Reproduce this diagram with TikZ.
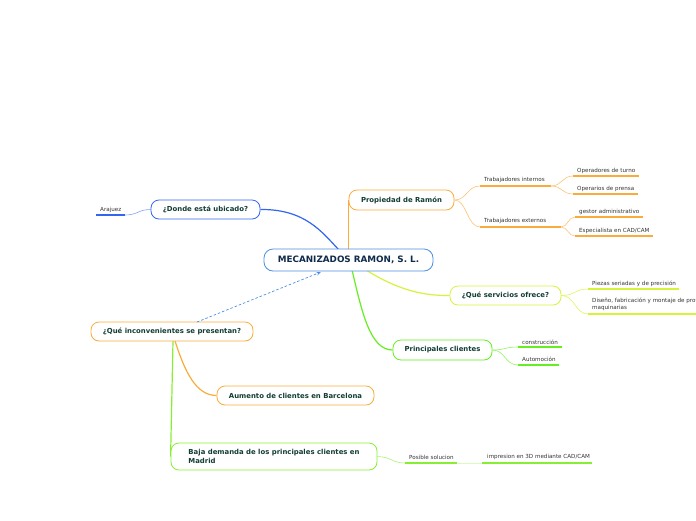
\documentclass[tikz,border=0pt]{standalone}
\usepackage{fontspec}
\setmainfont{DejaVu Sans}
\usetikzlibrary{backgrounds,arrows.meta}
\definecolor{cblue}{HTML}{4A8FE0}
\definecolor{dblue}{HTML}{3366F0}
\definecolor{corange}{HTML}{F9AC3C}
\definecolor{cyg}{HTML}{D6F23A}
\definecolor{cgreen}{HTML}{66EE22}
\definecolor{lgreen}{HTML}{88EE33}
\definecolor{navy}{HTML}{0F2A4A}
\definecolor{ttext}{HTML}{123D33}
\definecolor{stext}{HTML}{333333}
\tikzset{
  topic/.style={draw, rounded corners=8pt, fill=white, line width=0.8pt,
    font=\fontsize{6.9}{8.5}\selectfont\bfseries, text=ttext, inner sep=0pt},
  sub/.style={font=\fontsize{5.6}{6.5}\selectfont, text=stext, anchor=west, inner sep=0pt, align=left, yshift=-1pt},
  uline/.style={line width=1.3pt},
  conn/.style={line width=1.2pt},
  thin/.style={line width=0.6pt},
}
\begin{document}
\begin{tikzpicture}[x=1pt,y=-1pt]
\useasboundingbox (0,0) rectangle (696,520);
\clip (0,0) rectangle (696,520);

% main topics
\node[topic, draw=cblue, minimum width=169pt, minimum height=22pt, rounded corners=9pt,
  font=\fontsize{8.8}{10}\selectfont\bfseries, text=navy] (center) at (348.5,260) {MECANIZADOS RAMON, S. L.};
\node[topic, draw=corange, minimum width=105pt, minimum height=20pt] (prop) at (401.5,200) {Propiedad de Ramón};
\node[topic, draw=dblue, minimum width=109pt, minimum height=19pt] (donde) at (205.5,209.5) {¿Donde está ubicado?};
\node[topic, draw=cyg, minimum width=111pt, minimum height=19pt] (serv) at (505.5,295.5) {¿Qué servicios ofrece?};
\node[topic, draw=cgreen, minimum width=99pt, minimum height=20pt] (princ) at (442.5,350) {Principales clientes};
\node[topic, draw=corange, minimum width=162pt, minimum height=19pt] (incon) at (172,331.5) {¿Qué inconvenientes se presentan?};
\node[topic, draw=corange, minimum width=157pt, minimum height=19pt] (aum) at (295.5,395.5) {Aumento de clientes en Barcelona};
\node[topic, draw=lgreen, minimum width=206pt, minimum height=27pt, align=left] (baja) at (274,456.5)
  {Baja demanda de los principales clientes en\\Madrid};

% subtopic labels
\node[sub] (araj) at (100,209) {Arajuez};
\coordinate (araj-l) at (96,215); \coordinate (araj-r) at (125,215);
\node[sub] (tint) at (484,179) {Trabajadores internos};
\coordinate (tint-l) at (480,186); \coordinate (tint-r) at (551,186);
\node[sub] (text) at (484,219.5) {Trabajadores externos};
\coordinate (text-l) at (480,227); \coordinate (text-r) at (561,227);
\node[sub] (oper) at (577,170) {Operadores de turno};
\coordinate (oper-l) at (573,176); \coordinate (oper-r) at (639,176);
\node[sub] (opre) at (577,188) {Operarios de prensa};
\coordinate (opre-l) at (573,194); \coordinate (opre-r) at (638,194);
\node[sub] (gest) at (579,211) {gestor administrativo};
\coordinate (gest-l) at (575,217); \coordinate (gest-r) at (643,217);
\node[sub] (esp) at (579,229.5) {Especialista en CAD/CAM};
\coordinate (esp-l) at (575,236); \coordinate (esp-r) at (653,236);
\node[sub] (piez) at (592,283) {Piezas seriadas y de precisión};
\coordinate (piez-l) at (588,289); \coordinate (piez-r) at (679,289);
\node[sub, font=\fontsize{5.6}{7}\selectfont] (dis) at (592,303.5) {Diseño, fabricación y montaje de prot\\maquinarias};
\coordinate (dis-l) at (588,314); \coordinate (dis-r) at (700,314);
\node[sub] (cons) at (522,341) {construcción};
\coordinate (cons-l) at (518,347); \coordinate (cons-r) at (562,347);
\node[sub] (auto) at (522,358.5) {Automoción};
\coordinate (auto-l) at (518,365); \coordinate (auto-r) at (559,365);
\node[sub] (pos) at (409,456) {Posible solucion};
\coordinate (pos-l) at (405,463); \coordinate (pos-r) at (457,463);
\node[sub] (imp) at (487,456) {impresion en 3D mediante CAD/CAM};
\coordinate (imp-l) at (482,463); \coordinate (imp-r) at (592,463);

\coordinate (da) at (197,322);
\coordinate (db) at (321,272);

\begin{pgfonlayer}{background}
% main connectors
\draw[conn, corange] (prop.west) -- (prop.west |- center.north);
\draw[conn, dblue] (donde.east) .. controls (305,209) and (322,232) .. (339,250);
\draw[conn, cyg] (366,270) .. controls (395,288) and (420,296) .. (serv.west);
\draw[conn, cgreen] (352,270) .. controls (362,312) and (370,350) .. (princ.west);
\draw[conn, corange] (175,341) .. controls (185,372) and (196,395.5) .. (aum.west);
\draw[conn, lgreen] (173,341) -- (baja.west);
% sub connectors
\draw[thin, dblue!60] (donde.west) .. controls (138,209.5) and (138,215) .. (araj-r);
\draw[thin, corange!70] (prop.east) .. controls (467,200) and (467,186) .. (tint-l);
\draw[thin, corange!70] (prop.east) .. controls (467,200) and (467,227) .. (text-l);
\draw[thin, corange!70] (tint-r) .. controls (562,186) and (562,176) .. (oper-l);
\draw[thin, corange!70] (tint-r) .. controls (562,186) and (562,194) .. (opre-l);
\draw[thin, corange!70] (text-r) .. controls (568,227) and (568,217) .. (gest-l);
\draw[thin, corange!70] (text-r) .. controls (568,227) and (568,236) .. (esp-l);
\draw[thin, cyg!80] (serv.east) .. controls (575,295.5) and (575,289) .. (piez-l);
\draw[thin, cyg!80] (serv.east) .. controls (575,295.5) and (575,314) .. (dis-l);
\draw[thin, cgreen!70] (princ.east) .. controls (505,350) and (505,347) .. (cons-l);
\draw[thin, cgreen!70] (princ.east) .. controls (505,350) and (505,365) .. (auto-l);
\draw[thin, lgreen!70] (baja.east) .. controls (392,457) and (392,463) .. (pos-l);
\draw[thin, lgreen!30] (pos-r) -- (imp-l);
\end{pgfonlayer}

% dashed relation arrow
\draw[line width=0.7pt, dash pattern=on 2.5pt off 2pt, cblue, -{Stealth[length=4.5pt,width=3.5pt]}] (da) -- (db);

% underlines
\draw[uline, dblue] (araj-l) -- (araj-r);
\draw[uline, corange] (tint-l) -- (tint-r);
\draw[uline, corange] (text-l) -- (text-r);
\draw[uline, corange] (oper-l) -- (oper-r);
\draw[uline, corange] (opre-l) -- (opre-r);
\draw[uline, corange] (gest-l) -- (gest-r);
\draw[uline, corange] (esp-l) -- (esp-r);
\draw[uline, cyg] (piez-l) -- (piez-r);
\draw[uline, cyg] (dis-l) -- (dis-r);
\draw[uline, cgreen] (cons-l) -- (cons-r);
\draw[uline, cgreen] (auto-l) -- (auto-r);
\draw[uline, lgreen] (pos-l) -- (pos-r);
\draw[uline, lgreen] (imp-l) -- (imp-r);
\end{tikzpicture}
\end{document}
